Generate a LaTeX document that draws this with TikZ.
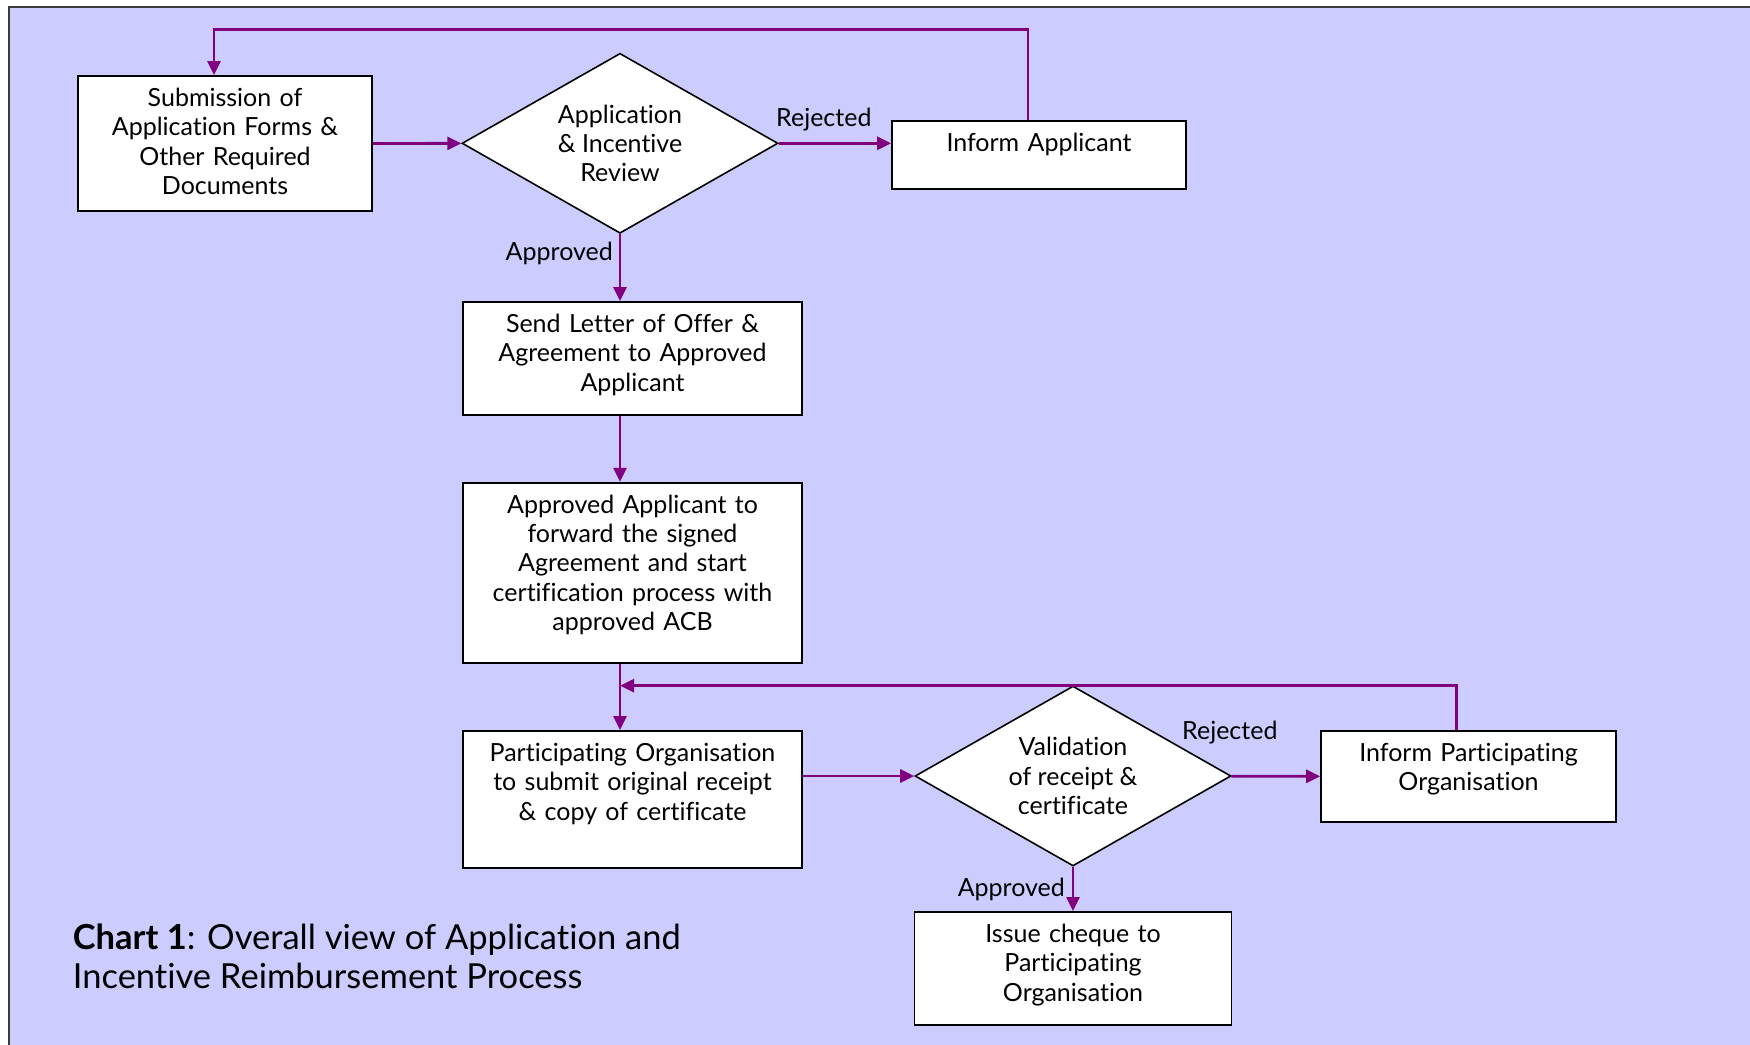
\documentclass[tikz,border=0pt]{standalone}
\usepackage{fontspec}
\setmainfont{Lato}[Ligatures=NoCommon]
\usepackage{tikz}
\usetikzlibrary{shapes.geometric, arrows}
\usetikzlibrary{arrows.meta}
\definecolor{chartbg}{HTML}{CCCCFF}
\definecolor{flow}{HTML}{800080}
\definecolor{framegray}{HTML}{3C3C3C}
\newcommand{\chartfont}{\fontsize{25}{29.3}\selectfont}
\tikzstyle{process} = [rectangle, draw=black, fill=white, line width=1.8pt, text width=294pt, inner xsep=0pt, inner ysep=0pt, text height=30.5pt, align=center, font=\chartfont]
\tikzstyle{decision} = [diamond, draw=black, fill=white, line width=1.6pt, minimum width=316pt, minimum height=180pt, shape aspect=1.75, inner sep=0pt, align=center, font=\chartfont]
\tikzstyle{arrow} = [line width=2.8pt, draw=flow, -{Triangle[length=14pt, width=13pt]}]
\tikzstyle{note} = [inner sep=0pt, font=\chartfont]

\begin{document}
\begin{tikzpicture}[x=1pt, y=-1pt]
                    \useasboundingbox (0,0) rectangle (1750,1044);
                    \fill[white] (0,0) rectangle (1750,1044);
                    \draw[draw=framegray, line width=2pt, fill=chartbg] (9,7) rectangle (1770,1064);

                    \node (1) [process, text depth=104.5pt] at (225,143.5) {Submission of\\Application Forms \&\\Other Required\\Documents};
                    \node (2) [decision] at (620,143.3) {Application\\\& Incentive\\Review};
                    \node (3) [process, text depth=37.5pt] at (1039,155) {Inform Applicant};
                    \node (4) [process, text width=339pt, text depth=82.5pt] at (632.5,358.5) {Send Letter of Offer \&\\Agreement to Approved\\Applicant};
                    \node (5) [process, text width=339pt, text depth=150pt] at (632.5,573) {Approved Applicant to\\forward the signed\\Agreement and start\\certification process with\\approved ACB};
                    \node (6) [process, text width=339pt, text depth=106.5pt] at (632.5,799.5) {Participating Organisation\\to submit original receipt\\\& copy of certificate};
                    \node (7) [decision] at (1073,776) {Validation\\of receipt \&\\certificate};
                    \node (8) [process, text width=295pt, text depth=60.5pt] at (1468.5,776.5) {Inform Participating\\Organisation};
                    \node (9) [process, text width=317pt, text depth=82.5pt] at (1073,968.5) {Issue cheque to\\Participating\\Organisation};

                    \node (r1) [note, anchor=base west] at (776,126.7) {Rejected};
                    \node (a1) [note, anchor=base east] at (613,260.7) {Approved};
                    \node (r2) [note, anchor=base west] at (1182,739) {Rejected};
                    \node (a2) [note, anchor=base east] at (1065,896.7) {Approved};
                    \node (title) [anchor=base west, align=left, inner sep=0pt, font=\fontsize{34.5}{39}\selectfont] at (72.7,988) {\textbf{Chart 1}: Overall view of Application and\\Incentive Reimbursement Process};

                    \coordinate (join) at (620,685.7);

                    \draw[arrow] (1) -- (2);
                    \draw[arrow] (2.east) -- (2.east -| 3.west);
                    \draw[arrow] (2.south) -- (2.south |- 4.north);
                    \draw[arrow] (2.south |- 4.south) -- (2.south |- 5.north);
                    \draw[arrow] (2.south |- 5.south) -- (2.south |- 6.north);
                    \draw[arrow] ([xshift=-11pt]3.north) -- ++(0,-90.3) -| ([xshift=-11pt]1.north);
                    \draw[arrow] (7.west -| 6.east) -- (7.west);
                    \draw[arrow] (7) -- (8);
                    \draw[arrow] (7) -- (9);
                    \draw[arrow] ([xshift=-12pt]8.north) |- (join);
                \end{tikzpicture}
\end{document}
